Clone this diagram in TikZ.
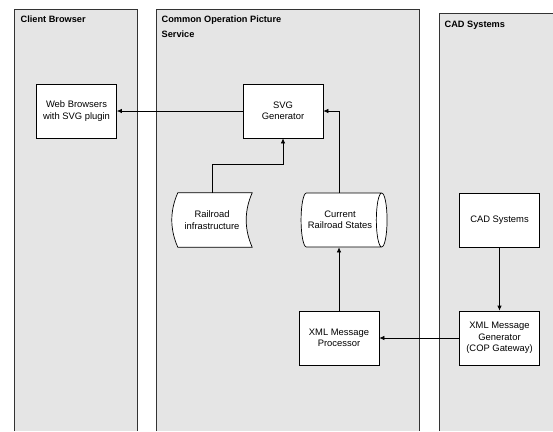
\documentclass[tikz,border=0pt]{standalone}
\usepackage{fontspec}
\setmainfont{Liberation Sans}
\usetikzlibrary{arrows,arrows.meta,calc,shapes,backgrounds}
\tikzset{>={Latex[length=5pt,width=4.5pt]}}
\tikzstyle{lane}=[draw=black!80,fill=black!10,line width=0.7pt]
\tikzstyle{lanetitle}=[anchor=north west,inner sep=0pt,align=left,font=\fontsize{9.2}{15}\selectfont\bfseries]
\tikzstyle{process}=[rectangle,draw=black,fill=white,line width=0.7pt,minimum width=80pt,minimum height=54pt,align=center,font=\fontsize{9.4}{11.5}\selectfont]
\tikzstyle{stored}=[rectangle,minimum width=80pt,minimum height=54pt,align=center,font=\fontsize{9.4}{11.5}\selectfont]
\tikzstyle{direct}=[cylinder,draw=black,fill=white,line width=0.7pt,aspect=0.45,minimum width=54pt,minimum height=86pt,align=center,font=\fontsize{9.4}{11.5}\selectfont]
\tikzstyle{link}=[->,line width=0.7pt]

\begin{document}
\begin{tikzpicture}[x=1pt,y=-1pt,inner sep=1mm]
	\useasboundingbox (0,0) rectangle (553,431);
	
	% swimlanes
	\begin{scope}[on background layer]
		\draw[lane] (14.5,431) |- (137,9) -- (137,431);
		\draw[lane] (156.5,431) |- (419.5,9) -- (419.5,431);
		\draw[lane] (439.5,431) |- (555,13) -- (555,431);
	\end{scope}
	\node[lanetitle] (title1) at (20.5,16) {Client Browser};
	\node[lanetitle] (title2) at (161.5,16) {Common Operation Picture\\Service};
	\node[lanetitle] (title3) at (444.5,20.5) {CAD Systems};
	
	\node[process] (browser) at (76.5,111) {Web Browsers\\with SVG plugin};
	\node[process] (generator) at (283,111) {SVG\\Generator};
	\node[stored] (infra) at (212,220) {Railroad\\infrastructure};
	\node[direct] (states) at (340,220) {Current\\Railroad States};
	\node[process] (processor) at (339,338) {XML Message\\Processor};
	\node[process] (cad) at (499.5,220) {CAD Systems};
	\node[process] (gateway) at (499.5,338) {XML Message\\Generator\\(COP Gateway)};
	
	\begin{scope}[on background layer]
		\draw[fill=white,line width=0.7pt] ($(infra.north west)+(6,0)$) -- (infra.north east)
			.. controls +(-8,18) and +(-8,-18) .. (infra.south east)
			-- ($(infra.south west)+(6,0)$)
			.. controls +(-8,-18) and +(-8,18) .. cycle;
	\end{scope}
	
	\draw[link] (generator) -- (browser);
	\draw[link] (infra.north) -- ++(0,-28) -| (generator.south);
	\draw[link] (states.north -| processor.north) |- (generator.east);
	\draw[link] (processor.north) -- (processor.north |- states.south);
	\draw[link] (cad) -- (gateway);
	\draw[link] (gateway) -- (processor);
\end{tikzpicture}
\end{document}
